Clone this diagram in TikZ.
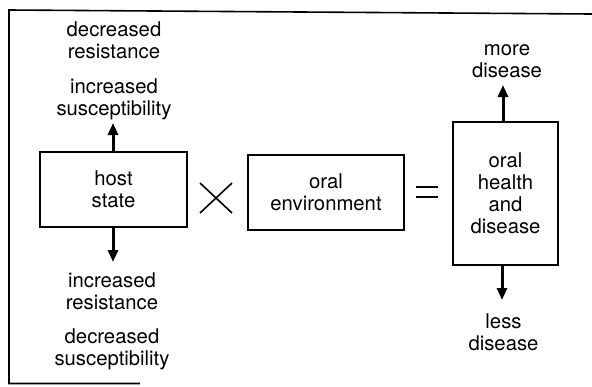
\documentclass[tikz,border=0pt]{standalone}
\usepackage{fontspec}
\setmainfont{TeX Gyre Heros}
\usetikzlibrary{arrows.meta}
\newcommand\mlines[1]{\begin{tabular}[t]{@{}c@{}}#1\end{tabular}}
\begin{document}
\begin{tikzpicture}[x=1pt,y=-1pt,
  every node/.style={font=\fontsize{20.3}{22}\selectfont, inner sep=0pt},
  box/.style={draw, line width=1.7pt, align=center},
  arr/.style={line width=3pt, -{Triangle[length=12pt,width=10pt]}},
  frame/.style={line width=1.6pt},
  sym/.style={line width=1.6pt}]
\useasboundingbox (0,0) rectangle (592,386);
% frame
\draw[frame] (592,14) -- (9,10) -- (9,383.5) -- (140,383.5);
% boxes
\node[box, minimum width=147pt, minimum height=75pt] (host) at (113.5,189.5) {host\\state};
\node[box, minimum width=156pt, minimum height=75pt] (env) at (326,192.5) {oral\\environment};
\node[box, minimum width=105pt, minimum height=143pt] (oral) at (505.5,193.5) {oral\\health\\and\\disease};
% operators
\draw[sym] (200,183) -- (232,213);
\draw[sym] (200,213) -- (232,183);
\draw[sym] (416,187) -- (438,187);
\draw[sym] (416,197) -- (438,197);
% labels
\node[anchor=base] (hup) at (114,36) {\mlines{decreased\\resistance\\[13pt]increased\\susceptibility}};
\node[anchor=base] (hdown) at (112,287) {\mlines{increased\\resistance\\[12pt]decreased\\susceptibility}};
\node[anchor=base] (more) at (507,55) {\mlines{more\\disease}};
\node[anchor=base] (less) at (503.5,328) {\mlines{less\\disease}};
% arrows
\coordinate (hupT) at (113,123);
\coordinate (hdnT) at (113,262);
\coordinate (oupT) at (503,85);
\coordinate (odnT) at (502,300);
\draw[arr] (hupT |- host.north) -- (hupT);
\draw[arr] (hdnT |- host.south) -- (hdnT);
\draw[arr] (oupT |- oral.north) -- (oupT);
\draw[arr] (odnT |- oral.south) -- (odnT);
\end{tikzpicture}
\end{document}
